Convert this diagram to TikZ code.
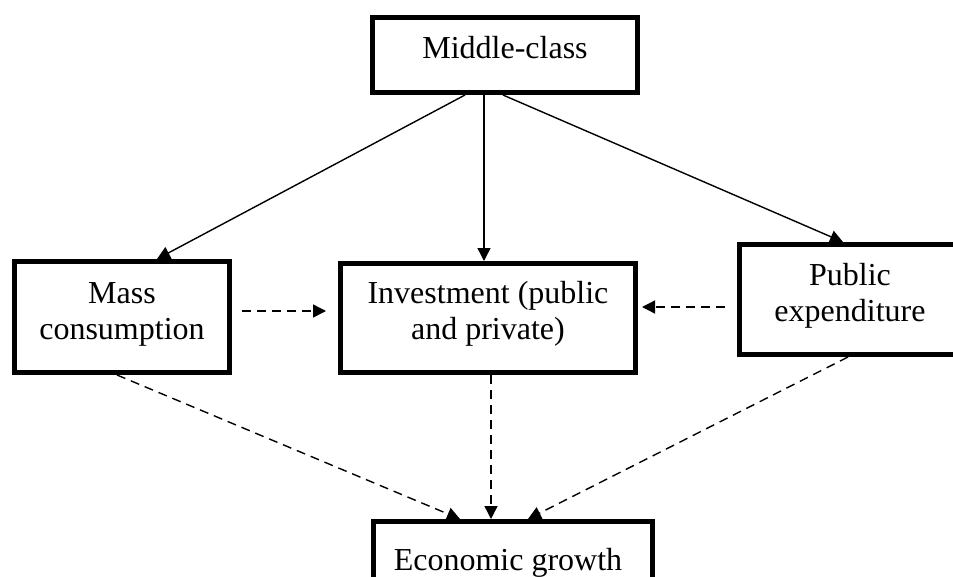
\documentclass[tikz,border=0pt]{standalone}
\usepackage{fontspec}
\setmainfont{Liberation Serif}
\usetikzlibrary{arrows.meta}
\begin{document}
\begin{tikzpicture}[x=1pt,y=-1pt,
  box/.style={draw, line width=5pt, inner sep=0pt, outer sep=2.5pt, fill=white},
  txt/.style={font=\fontsize{32}{36.5}\selectfont, inner sep=0pt, align=center},
  conn/.style={line width=1.4pt, -{Triangle[length=13pt,width=13pt]}},
  dconn/.style={conn, dash pattern=on 9pt off 6pt}]
\useasboundingbox (0,0) rectangle (953,576);
% boxes
\node[box, minimum width=265pt, minimum height=75pt] (mid) at (505,55) {};
\node[box, minimum width=215pt, minimum height=111pt] (mass) at (122,317) {};
\node[box, minimum width=295pt, minimum height=109pt] (inv) at (488,318) {};
\node[box, minimum width=221pt, minimum height=110pt] (pub) at (850,299.5) {};
\node[box, minimum width=279pt, minimum height=91pt] (eco) at (513,567) {};
% texts
\node[txt, anchor=base] (midT) at (505,58) {Middle-class};
\node[txt] (massT) at (122,314.4) {Mass\\consumption};
\node[txt] (invT) at (488,314) {Investment (public\\and private)};
\node[txt] (pubT) at (850,295.8) {Public\\expenditure};
\node[txt, anchor=base] (ecoT) at (508,570) {Economic growth};
% solid connectors
\draw[conn] ([xshift=-40pt]mid.south) -- ([xshift=35pt]mass.north);
\draw[conn] ([xshift=-21pt]mid.south) -- ([xshift=-4pt]inv.north);
\draw[conn] ([xshift=-2pt]mid.south) -- ([xshift=-7pt]pub.north);
% dashed connectors
\draw[dconn, shorten <=10pt, shorten >=12pt] ([yshift=6pt]mass.east) -- ([yshift=7pt]inv.west);
\draw[dconn, shorten <=12pt, shorten >=4pt] ([yshift=-7.5pt]pub.west) -- ([yshift=11pt]inv.east);
\draw[dconn] ([xshift=-5pt]mass.south) -- ([xshift=-53pt]eco.north);
\draw[dconn] ([xshift=3pt]inv.south) -- ([xshift=-22pt]eco.north);
\draw[dconn] ([xshift=-2pt]pub.south) -- ([xshift=15pt]eco.north);
\end{tikzpicture}
\end{document}
